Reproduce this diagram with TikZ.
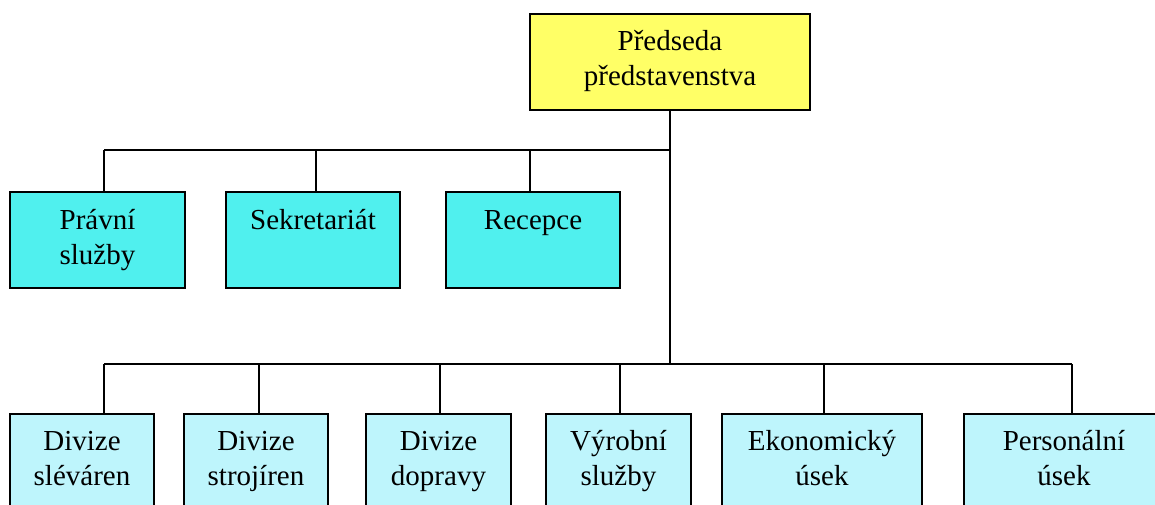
\documentclass[tikz,border=0pt]{standalone}
\usepackage{fontspec}
\setmainfont{Liberation Serif}
\usetikzlibrary{calc}
\definecolor{headfill}{RGB}{255,255,102}
\definecolor{stafffill}{RGB}{80,240,238}
\definecolor{unitfill}{RGB}{190,245,252}
\begin{document}
\begin{tikzpicture}[x=1pt,y=-1pt,
  box/.style={draw=black, line width=2pt, inner sep=0pt, outer sep=0pt, anchor=north west},
  head/.style={box, fill=headfill, minimum width=280pt, minimum height=96pt},
  staff/.style={box, fill=stafffill, minimum height=96pt},
  unit/.style={box, fill=unitfill, minimum height=120pt},
  lbl/.style={anchor=north, inner sep=0pt, outer sep=0pt, align=center,
              font=\fontsize{29}{35}\selectfont},
  link/.style={draw=black, line width=2pt}]
\clip (0,0) rectangle (1155,505);
\fill[white] (0,0) rectangle (1155,505);

% chairman
\node[head] (chair) at (530,14) {};
\node[lbl] (chairT) at ($(chair.north)+(0,15)$) {\rule{0pt}{22pt}Předseda\\představenstva};

% staff units
\node[staff, minimum width=175pt] (legal) at (10,192) {};
\node[staff, minimum width=174pt] (secr) at (226,192) {};
\node[staff, minimum width=174pt] (recep) at (446,192) {};
\node[lbl] (legalT) at ($(legal.north)+(0,15)$) {\rule{0pt}{22pt}Právní\\služby};
\node[lbl] (secrT) at ($(secr.north)+(0,15)$) {\rule{0pt}{22pt}Sekretariát};
\node[lbl] (recepT) at ($(recep.north)+(0,15)$) {\rule{0pt}{22pt}Recepce};

% line units
\node[unit, minimum width=144pt] (foundry) at (10,414) {};
\node[unit, minimum width=144pt] (engin) at (184,414) {};
\node[unit, minimum width=145pt] (transp) at (366,414) {};
\node[unit, minimum width=145pt] (prodsv) at (546,414) {};
\node[unit, minimum width=200pt] (econ) at (722,414) {};
\node[unit, minimum width=200pt] (pers) at (964,414) {};
\node[lbl] (foundryT) at ($(foundry.north)+(0,14)$) {\rule{0pt}{22pt}Divize\\sléváren};
\node[lbl] (enginT) at ($(engin.north)+(0,14)$) {\rule{0pt}{22pt}Divize\\strojíren};
\node[lbl] (transpT) at ($(transp.north)+(0,14)$) {\rule{0pt}{22pt}Divize\\dopravy};
\node[lbl] (prodsvT) at ($(prodsv.north)+(0,14)$) {\rule{0pt}{22pt}Výrobní\\služby};
\node[lbl] (econT) at ($(econ.north)+(0,14)$) {\rule{0pt}{22pt}Ekonomický\\úsek};
\node[lbl] (persT) at ($(pers.north)+(0,14)$) {\rule{0pt}{22pt}Personální\\úsek};

% bus lines and drop points
\coordinate (busA) at (670,150);
\coordinate (busB) at (670,364);
\coordinate (dLegal) at (104,150);
\coordinate (dSecr) at (316,150);
\coordinate (dRecep) at (530,150);
\coordinate (dFoundry) at (104,364);
\coordinate (dEngin) at (259,364);
\coordinate (dTransp) at (440,364);
\coordinate (dProdsv) at (620,364);
\coordinate (dEcon) at (824,364);
\coordinate (dPers) at (1072,364);

\draw[link] (chair.south) -- (busB);
\draw[link] (busA) -- (dLegal);
\draw[link] (busB) -- (dFoundry);
\draw[link] (busB) -- (dPers);
\draw[link] (dLegal) -- (dLegal |- legal.north);
\draw[link] (dSecr) -- (dSecr |- secr.north);
\draw[link] (dRecep) -- (dRecep |- recep.north);
\draw[link] (dFoundry) -- (dFoundry |- foundry.north);
\draw[link] (dEngin) -- (dEngin |- engin.north);
\draw[link] (dTransp) -- (dTransp |- transp.north);
\draw[link] (dProdsv) -- (dProdsv |- prodsv.north);
\draw[link] (dEcon) -- (dEcon |- econ.north);
\draw[link] (dPers) -- (dPers |- pers.north);
\end{tikzpicture}
\end{document}
